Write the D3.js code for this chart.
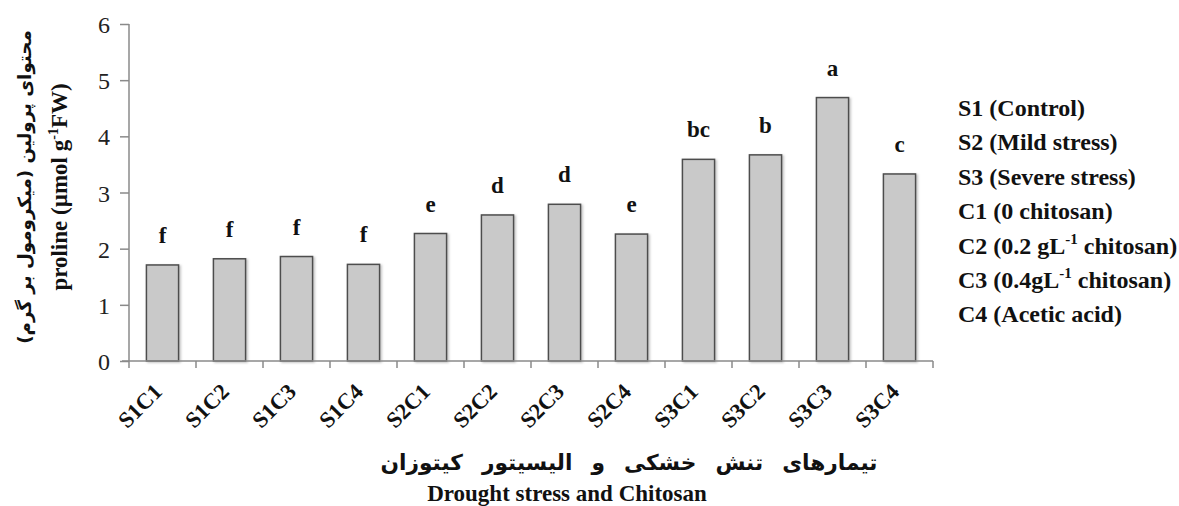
<!DOCTYPE html>
<html>
<head>
<meta charset="utf-8">
<script src="https://cdn.jsdelivr.net/npm/d3@7"></script>
<style>
  body { margin: 0; background: #fff; }
  svg { display: block; }
  .serif { font-family: "Liberation Serif", "Times New Roman", Tinos, "DejaVu Serif", serif; }
  .farsi { font-family: "DejaVu Sans", sans-serif; }
</style>
</head>
<body>
<svg id="chart" width="1179" height="506"></svg>
<script>
const categories = ['S1C1', 'S1C2', 'S1C3', 'S1C4', 'S2C1', 'S2C2', 'S2C3', 'S2C4', 'S3C1', 'S3C2', 'S3C3', 'S3C4']
const prolineValues = [1.71, 1.82, 1.86, 1.72, 2.27, 2.60, 2.79, 2.26, 3.59, 3.67, 4.69, 3.33]
const groupLetters = ['f', 'f', 'f', 'f', 'e', 'd', 'd', 'e', 'bc', 'b', 'a', 'c']
const yTicks = [0, 1, 2, 3, 4, 5, 6]
// legend lines: [main text, superscript, rest]
const legendLines = [
    ['S1 (Control)', '', ''],
    ['S2 (Mild stress)', '', ''],
    ['S3 (Severe stress)', '', ''],
    ['C1 (0 chitosan)', '', ''],
    ['C2 (0.2 gL', '-1', ' chitosan)'],
    ['C3 (0.4gL', '-1', ' chitosan)'],
    ['C4 (Acetic acid)', '', '']
]
const yTitleFa = 'محتوای پرولین (میکرومول بر گرم)'
const xTitleFa = 'تیمارهای تنش خشکی و الیسیتور کیتوزان'
const xTitleEn = 'Drought stress and Chitosan'

const axisColor = '#8a8a8a'

const svg = d3.select('#chart')

let defs = svg.append('defs')
let shadow = defs.append('filter').attr('id', 'barShadow')
    .attr('x', '-20%').attr('y', '-10%').attr('width', '150%').attr('height', '130%')
shadow.append('feDropShadow')
    .attr('dx', 1.5).attr('dy', 1).attr('stdDeviation', 1)
    .attr('flood-color', '#000').attr('flood-opacity', 0.25)

const pad = 0.52
let x = d3.scaleBand()
    .domain(categories)
    .range([129, 933])
    .paddingInner(pad)
    .paddingOuter(pad / 2)
let y = d3.scaleLinear()
    .domain([0, 6])
    .range([361, 24])

// y axis
let yAxis = svg.append('g')
    .attr('transform', 'translate(129,0)')
    .call(d3.axisLeft(y).tickValues(yTicks).tickSize(9).tickPadding(10).tickFormat(d3.format('d')))
yAxis.attr('font-family', null).attr('font-size', null)
yAxis.select('.domain').attr('stroke', axisColor).attr('stroke-width', 1.5)
    .attr('d', 'M0,' + y(6) + 'V' + y(0))
yAxis.selectAll('.tick line').attr('stroke', axisColor).attr('stroke-width', 1.5)
yAxis.selectAll('.tick text')
    .classed('serif', true)
    .style('font-size', '24px')
    .attr('fill', '#222')
    .attr('dy', '0.36em')

// bars
svg.append('g').selectAll('rect')
    .data(prolineValues)
    .enter()
    .append('rect')
    .attr('x', (d, i) => x(categories[i]))
    .attr('y', d => y(d))
    .attr('width', x.bandwidth())
    .attr('height', d => y(0) - y(d))
    .attr('fill', '#c9c9c9')
    .attr('stroke', '#4d4d4d')
    .attr('stroke-width', 1.5)
    .attr('filter', 'url(#barShadow)')

// x axis line + ticks on band boundaries
let step = x.step()
let bounds = categories.map(c => x(c) - step * pad / 2)
bounds.push(933)
let xAxis = svg.append('g')
xAxis.append('line')
    .attr('x1', 122).attr('x2', 933)
    .attr('y1', y(0)).attr('y2', y(0))
    .attr('stroke', axisColor).attr('stroke-width', 1.5)
xAxis.selectAll('line.tick')
    .data(bounds)
    .enter()
    .append('line')
    .attr('class', 'tick')
    .attr('x1', d => d).attr('x2', d => d)
    .attr('y1', y(0)).attr('y2', y(0) + 7)
    .attr('stroke', axisColor).attr('stroke-width', 1.5)

xAxis.selectAll('text')
    .data(categories)
    .enter()
    .append('text')
    .text(d => d)
    .attr('class', 'serif')
    .attr('transform', d => 'translate(' + (x(d) + x.bandwidth() / 2 + 1) + ',' + (y(0) + 32) + ') rotate(-45)')
    .attr('text-anchor', 'end')
    .style('font-weight', 'bold')
    .style('font-size', '22.5px')
    .attr('fill', '#111')

// significance letters
svg.append('g').selectAll('text')
    .data(groupLetters)
    .enter()
    .append('text')
    .text(d => d)
    .attr('class', 'serif')
    .attr('x', (d, i) => x(categories[i]) + x.bandwidth() / 2)
    .attr('y', (d, i) => y(prolineValues[i]) - 22)
    .attr('text-anchor', 'middle')
    .style('font-weight', 'bold')
    .style('font-size', '23px')
    .attr('fill', '#111')

// legend (text only)
let legend = svg.append('g').attr('transform', 'translate(958,116)')
legendLines.forEach(function (l, i) {
    let t = legend.append('text')
        .attr('class', 'serif')
        .attr('x', 0)
        .attr('y', i * 34.4)
        .style('font-weight', 'bold')
        .style('font-size', '24px')
        .attr('fill', '#111')
    t.append('tspan').text(l[0])
    if (l[1]) {
        t.append('tspan').text(l[1]).style('font-size', '15px').attr('dy', -10)
        t.append('tspan').text(l[2]).attr('dy', 10)
    }
})

// y axis titles
let yTitle = svg.append('g').attr('transform', 'translate(0,187) rotate(-90)')
let faY = yTitle.append('text')
    .text(yTitleFa)
    .attr('class', 'farsi')
    .attr('x', 0).attr('y', 31)
    .attr('direction', 'rtl')
    .attr('text-anchor', 'middle')
    .style('font-weight', 'bold')
    .style('font-size', '18px')
    .attr('fill', '#111')
let fw = faY.node().getComputedTextLength()
faY.style('font-size', (18 * 314 / fw) + 'px')

let enY = yTitle.append('text')
    .attr('class', 'serif')
    .attr('x', 0).attr('y', 67)
    .attr('text-anchor', 'middle')
    .style('font-weight', 'bold')
    .style('font-size', '23px')
    .attr('fill', '#111')
enY.append('tspan').text('proline (µmol g')
enY.append('tspan').text('-1').style('font-size', '14px').attr('dy', -9)
enY.append('tspan').text('FW)').attr('dy', 9)

// x axis titles: grow the font, then spread the words to the width in the picture
let faX = svg.append('text')
    .text(xTitleFa)
    .attr('class', 'farsi')
    .attr('x', 629).attr('y', 470)
    .attr('direction', 'rtl')
    .attr('text-anchor', 'middle')
    .style('font-weight', 'bold')
    .style('font-size', '20px')
    .attr('fill', '#111')
let wx = faX.node().getComputedTextLength()
let fsX = Math.min(28, 20 * 440 / wx)
faX.style('font-size', fsX + 'px')
wx = faX.node().getComputedTextLength()
if (wx < 497) faX.style('word-spacing', ((497 - wx) / 5) + 'px')

svg.append('text')
    .text(xTitleEn)
    .attr('class', 'serif')
    .attr('x', 567).attr('y', 501)
    .attr('text-anchor', 'middle')
    .style('font-weight', 'bold')
    .style('font-size', '23px')
    .attr('fill', '#111')
</script>
</body>
</html>
